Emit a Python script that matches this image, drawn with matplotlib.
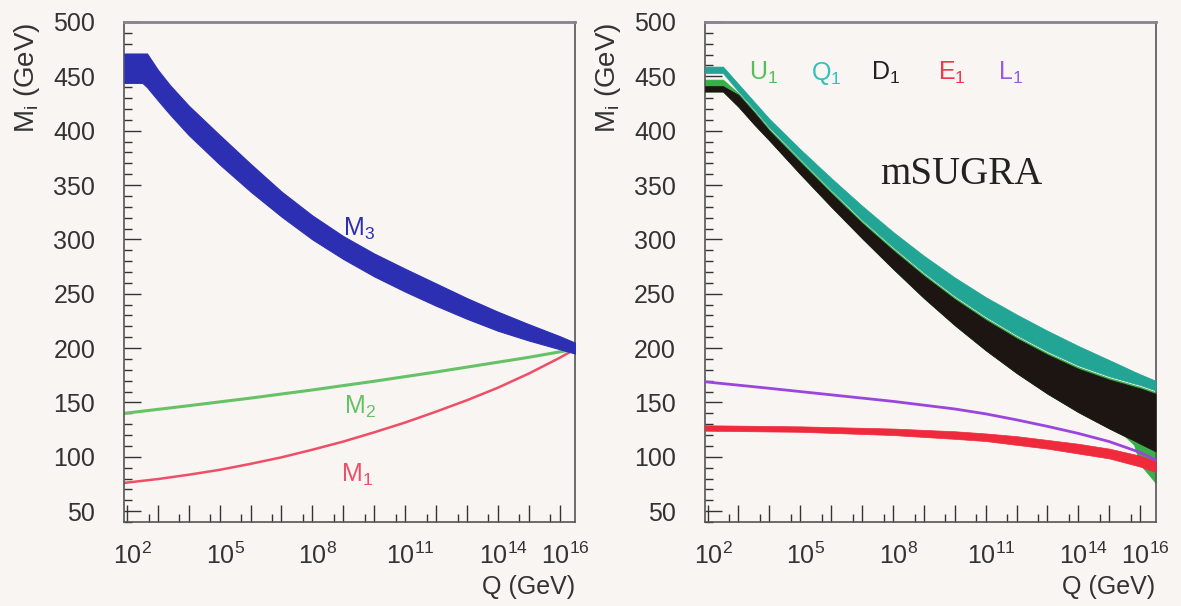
"""
Running of gaugino masses (left) and first-generation sfermion masses (right)
from the electroweak scale up to the GUT scale, mSUGRA.
"""

import numpy as np
import matplotlib.pyplot as plt
import matplotlib.transforms as mtransforms
from matplotlib.ticker import FixedLocator, FixedFormatter, MultipleLocator, NullFormatter

plt.rcParams["font.family"] = ["Liberation Sans", "DejaVu Sans"]
plt.rcParams["mathtext.default"] = "regular"

# ---------------------------------------------------------------------------
# Data: log10(Q / GeV) and masses in GeV
# ---------------------------------------------------------------------------

# gluino mass M3 (band)
M3_LOGQ = [1.92, 2.5, 2.65, 3.0, 3.39, 4, 5, 6, 7, 8, 9, 10, 11, 12, 13, 14, 15, 16, 16.5]
M3_HI   = [471, 471, 471, 456, 442, 423, 396, 369.5, 344, 322, 303, 287, 273,
           259.5, 246, 233.5, 222, 211, 205]
M3_LO   = [444, 444, 440, 428, 415, 396, 369, 344, 321, 300, 282, 266, 252,
           239, 227, 216, 207, 199, 195]

# wino mass M2
M2_LOGQ = [1.92, 4, 6, 8, 10, 12, 14, 15, 16, 16.5]
M2      = [140, 147, 154, 161.5, 169.5, 178, 187, 191.5, 196.5, 199]

# bino mass M1
M1_LOGQ = [1.92, 3, 4, 5, 6, 7, 8, 9, 10, 11, 12, 13, 14, 15, 16, 16.5]
M1      = [76, 79.5, 83.5, 88, 93.5, 99.5, 106.5, 114, 122.5, 131.5, 141.5,
           152, 163.5, 176.5, 191, 199]

# first-generation squarks share one grid
SQ_LOGQ = [1.92, 2.5, 3.0, 3.5, 4, 5, 6, 7, 8, 9, 10, 11, 12, 13, 14, 15,
           15.5, 15.8, 16, 16.5]

# squark doublet Q1
Q1_HI = [459, 459, 443, 427, 411, 383, 356.5, 331, 307, 285, 265, 247, 231,
         216, 202, 189, 182.5, 178.5, 176, 170]
Q1_LO = [453, 453, 436, 420, 403, 374, 345.5, 318, 293, 269.5, 248, 229, 212,
         197, 184, 174, 170, 167.5, 166, 161]

# up-type singlet U1
U1_HI = [447, 447, 434.5, 418.5, 401.5, 372.5, 344, 316.5, 291.5, 268, 246.5,
         227.5, 210.5, 195.5, 182.5, 172.5, 168.5, 166, 164.5, 159.5]
U1_LO = [436, 436, 422, 406, 391, 360, 330, 301, 273, 246, 221, 198, 177,
         158, 141, 126, 119, 111, 93, 76]

# down-type singlet D1
D1_HI = [441, 441, 433, 417, 400, 371, 342.5, 315, 290, 266.5, 245, 226, 209,
         194, 181, 171, 167, 164.5, 163, 158]
D1_LO = [436, 436, 422, 406, 391, 360, 330, 301, 273, 246, 221, 198, 177,
         158, 141, 126, 119, 115, 112, 105]

# slepton singlet E1
E1_LOGQ = [1.92, 5, 8, 10, 11, 12, 13, 14, 15, 16, 16.5]
E1_HI   = [129, 128, 126, 123.5, 121.5, 119, 115.5, 112, 107.5, 101, 96]
E1_LO   = [124, 123, 120, 116.5, 114.5, 111, 107.5, 103, 98.5, 91, 86]

# slepton doublet L1
L1_LOGQ = [1.92, 4, 6, 8, 10, 11, 12, 13, 14, 15, 16, 16.5]
L1      = [169, 163, 157, 151, 144, 139.5, 134, 128, 121.5, 114, 104, 97]

X_DECADES  = list(range(2, 17))
X_LABELLED = [2, 5, 8, 11, 14, 16]

# ---------------------------------------------------------------------------
# Colours
# ---------------------------------------------------------------------------

BG     = "#f8f5f2"
BLUE   = "#2c2fb2"
LGREEN = "#66c266"
PINK   = "#ef4f66"
TEAL   = "#22a595"
GREEN  = "#3aae48"
DARK   = "#1c1512"
RED    = "#ee2a3c"
PURPLE = "#9a45dd"


def q(logq):
    return 10.0 ** np.asarray(logq, dtype=float)


def style_axes(ax, fig):
    ax.set_facecolor(BG)
    ax.set_xscale("log")
    ax.set_xlim(10 ** 1.92, 10 ** 16.5)
    ax.set_ylim(40, 500)

    ax.xaxis.set_major_locator(FixedLocator([10.0 ** n for n in X_DECADES]))
    ax.xaxis.set_major_formatter(FixedFormatter(
        [f"$10^{{{n}}}$" if n in X_LABELLED else "" for n in X_DECADES]))
    ax.xaxis.set_minor_locator(FixedLocator([5 * 10.0 ** n for n in range(1, 17)]))
    ax.xaxis.set_minor_formatter(NullFormatter())

    ax.yaxis.set_major_locator(MultipleLocator(50))
    ax.yaxis.set_minor_locator(MultipleLocator(10))

    ax.tick_params(which="both", direction="in", color="#333333", width=1.0,
                   top=False, right=False)
    ax.tick_params(which="major", length=12)
    ax.tick_params(which="minor", length=5.5)
    ax.tick_params(axis="y", which="major", labelsize=18, pad=21, labelcolor="#333333")
    ax.tick_params(axis="x", which="major", labelsize=18, pad=15, labelcolor="#333333")

    # keep the "10" of each label centred on its tick
    shift = mtransforms.ScaledTranslation(4 / 72, 0, fig.dpi_scale_trans)
    for lab in ax.get_xticklabels():
        lab.set_transform(lab.get_transform() + shift)

    for side in ["left", "bottom", "right"]:
        ax.spines[side].set_color("#555555")
        ax.spines[side].set_linewidth(1.2)
    ax.spines["top"].set_color("#8a8090")
    ax.spines["top"].set_linewidth(2.0)

    ax.text(-0.216, 1.0, "M$_i$ (GeV)", transform=ax.transAxes, rotation=90,
            ha="center", va="top", fontsize=20, color="#333333")
    ax.text(1.0, -0.13, "Q (GeV)", transform=ax.transAxes,
            ha="right", va="center", fontsize=18, color="#333333")


fig = plt.figure(figsize=(11.81, 6.06), dpi=100)
fig.patch.set_facecolor(BG)

ax1 = fig.add_axes([0.1054, 0.1386, 0.3815, 0.8251])
ax2 = fig.add_axes([0.5970, 0.1386, 0.3815, 0.8251])

# ---------------------------------------------------------------------------
# Left: gaugino masses
# ---------------------------------------------------------------------------

ax1.fill_between(q(M3_LOGQ), M3_LO, M3_HI, color=BLUE, lw=0.8, ec=BLUE, zorder=3)
ax1.plot(q(M2_LOGQ), M2, color=LGREEN, lw=2.2, zorder=2)
ax1.plot(q(M1_LOGQ), M1, color=PINK, lw=1.8, zorder=2)

ax1.text(10 ** 9.5, 310, "M$_3$", color=BLUE, fontsize=18, ha="center", va="center")
ax1.text(10 ** 9.55, 146, "M$_2$", color=LGREEN, fontsize=18, ha="center", va="center")
ax1.text(10 ** 9.45, 83, "M$_1$", color=PINK, fontsize=18, ha="center", va="center")

style_axes(ax1, fig)

# ---------------------------------------------------------------------------
# Right: first-generation sfermions
# ---------------------------------------------------------------------------

ax2.fill_between(q(SQ_LOGQ), U1_LO, U1_HI, color=GREEN, lw=0.5, ec=GREEN, zorder=2)
ax2.fill_between(q(SQ_LOGQ), Q1_LO, Q1_HI, color=TEAL, lw=0.5, ec=TEAL, zorder=3)
ax2.fill_between(q(SQ_LOGQ), D1_LO, D1_HI, color=DARK, lw=0.5, ec=DARK, zorder=4)
ax2.fill_between(q(E1_LOGQ), E1_LO, E1_HI, color=RED, lw=0.5, ec=RED, zorder=5)
ax2.plot(q(L1_LOGQ), L1, color=PURPLE, lw=2.0, zorder=6)

labels = [("U$_1$", 3.8, "#55bf55"), ("Q$_1$", 5.85, "#35bfbd"),
          ("D$_1$", 7.75, "#222222"), ("E$_1$", 9.9, "#f0384a"),
          ("L$_1$", 11.8, "#9b5ae0")]
for text, lx, col in labels:
    ax2.text(10 ** lx, 453, text, color=col, fontsize=18, ha="center", va="center")

ax2.text(10 ** 10.2, 360, "mSUGRA", family=["Liberation Serif", "DejaVu Serif"],
         fontsize=28, color="#222222", ha="center", va="center")

style_axes(ax2, fig)

fig.savefig("out.png", dpi=100, facecolor=BG)
